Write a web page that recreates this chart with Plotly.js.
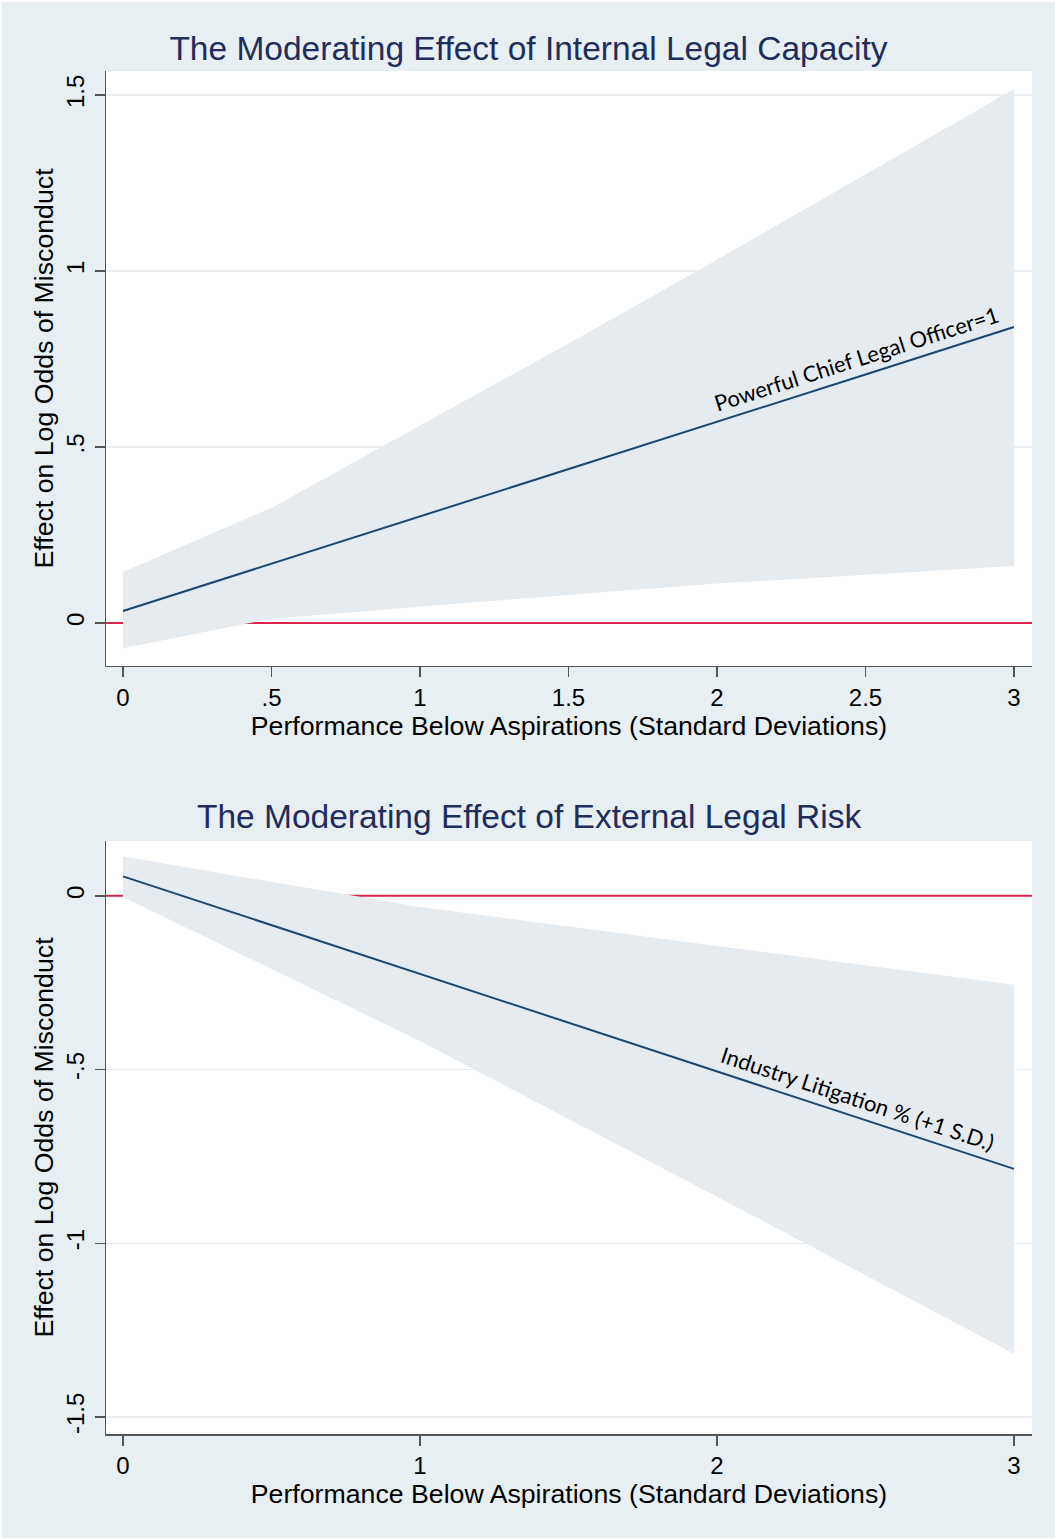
<!DOCTYPE html>
<html>
<head>
<meta charset="utf-8">
<script src="https://cdn.plot.ly/plotly-3.0.1.min.js"></script>
<style>
  html, body { margin:0; padding:0; background:#ffffff; }
  #plot { position:absolute; left:2px; top:2px; width:1053px; height:1536px; }
</style>
</head>
<body>
<div id="plot"></div>
<script>
// ---- Panel 1: Internal Legal Capacity ----
const xTop = [0, 0.5, 1, 1.5, 2, 2.5, 3];
const estTop = [0.034, 0.168, 0.303, 0.437, 0.572, 0.706, 0.841];
const upTop  = [0.145, 0.327, 0.561, 0.794, 1.032, 1.274, 1.517];
const loTop  = [-0.072, 0.012, 0.045, 0.080, 0.112, 0.138, 0.162];

// ---- Panel 2: External Legal Risk ----
const xBot = [0, 1, 2, 3];
const estBot = [0.056, -0.225, -0.505, -0.786];
const upBot  = [0.113, -0.032, -0.144, -0.256];
const loBot  = [-0.003, -0.418, -0.866, -1.318];

// reference line value (y = 0)
const refValue = 0;

// ---- Tick labels ----
const xTickValsTop = [0, 0.5, 1, 1.5, 2, 2.5, 3];
const xTickTextTop = ['0', '.5', '1', '1.5', '2', '2.5', '3'];
const yTickValsTop = [0, 0.5, 1, 1.5];
const yTickTextTop = ['0', '.5', '1', '1.5'];
const xTickValsBot = [0, 1, 2, 3];
const xTickTextBot = ['0', '1', '2', '3'];
const yTickValsBot = [-1.5, -1, -0.5, 0];
const yTickTextBot = ['-1.5', '-1', '-.5', '0'];

const titleTop = 'The Moderating Effect of Internal Legal Capacity';
const titleBot = 'The Moderating Effect of External Legal Risk';
const xTitle = 'Performance Below Aspirations (Standard Deviations)';
const yTitle = 'Effect on Log Odds of Misconduct';
const labelTop = 'Powerful Chief Legal Officer=1';
const labelBot = 'Industry Litigation % (+1 S.D.)';

const bandColor = '#e6ebf0';
const lineColor = '#1a476f';
const refColor = '#d8254d';
const axisColor = '#555555';
const gridColor = '#e8eef1';
const xRange = [-0.0572, 3.0606];

function refLine(xa, ya) {
  return {x: xRange, y: [refValue, refValue], xaxis: xa, yaxis: ya,
          type: 'scatter', mode: 'lines', line: {color: refColor, width: 2},
          hoverinfo: 'skip'};
}
function band(xs, up, lo, xa, ya) {
  return {
    x: xs.concat(xs.slice().reverse()),
    y: up.concat(lo.slice().reverse()),
    xaxis: xa, yaxis: ya,
    type: 'scatter', mode: 'lines', fill: 'toself',
    fillcolor: bandColor, line: {width: 0, color: bandColor},
    hoverinfo: 'skip'
  };
}
function est(xs, ys, xa, ya) {
  return {x: xs, y: ys, xaxis: xa, yaxis: ya, type: 'scatter', mode: 'lines',
          line: {color: lineColor, width: 2}};
}

const data = [
  refLine('x', 'y'),
  band(xTop, upTop, loTop, 'x', 'y'),
  est(xTop, estTop, 'x', 'y'),
  refLine('x2', 'y2'),
  band(xBot, upBot, loBot, 'x2', 'y2'),
  est(xBot, estBot, 'x2', 'y2')
];

const tickFont = {size: 24, color: '#000'};
const axTitleFont = {size: 26.7, color: '#000'};

function xAxis(anchor, vals, text) {
  return {
    anchor: anchor, domain: [0, 1], range: xRange,
    tickmode: 'array', tickvals: vals, ticktext: text,
    ticks: 'outside', ticklen: 10, tickwidth: 1.5, tickcolor: axisColor,
    showline: true, linecolor: axisColor, linewidth: 1.5,
    showgrid: false, zeroline: false, tickfont: tickFont,
    title: {text: xTitle, font: axTitleFont, standoff: 3}
  };
}
function yAxis(anchor, domain, range, vals, text) {
  return {
    anchor: anchor, domain: domain, range: range,
    tickmode: 'array', tickvals: vals, ticktext: text, tickangle: -90,
    ticks: 'outside', ticklen: 10, tickwidth: 1.5, tickcolor: axisColor,
    showline: true, linecolor: axisColor, linewidth: 1.5,
    showgrid: true, gridcolor: gridColor, gridwidth: 1.5,
    zeroline: false, tickfont: tickFont, ticklabelstandoff: 1,
    title: {text: yTitle, font: axTitleFont, standoff: 0}
  };
}

const layout = {
  width: 1053, height: 1536,
  paper_bgcolor: '#e8eff2', plot_bgcolor: '#ffffff',
  margin: {l: 104, r: 23, t: 69, b: 104},
  showlegend: false,
  font: {family: '"Liberation Sans", Arial, sans-serif', color: '#000'},
  title: {
    text: titleTop, font: {size: 33.5, color: '#1f2d5c'},
    x: 0.5, xref: 'container', xanchor: 'center',
    y: 0.9697, yref: 'container', yanchor: 'middle'
  },
  xaxis: xAxis('y', xTickValsTop, xTickTextTop),
  yaxis: yAxis('x', [0.5635, 1], [-0.122, 1.568], yTickValsTop, yTickTextTop),
  xaxis2: xAxis('y2', xTickValsBot, xTickTextBot),
  yaxis2: yAxis('x2', [0, 0.4351], [-1.549, 0.158], yTickValsBot, yTickTextBot),
  annotations: [
    {text: titleBot, xref: 'paper', yref: 'paper', x: 0.4573, y: 0.4527,
     xanchor: 'center', yanchor: 'middle', showarrow: false,
     font: {size: 33.5, color: '#1f2d5c'}},
    {text: labelTop, xref: 'x', yref: 'y', x: 2.47, y: 0.75, textangle: -17.7,
     xanchor: 'center', yanchor: 'middle', showarrow: false,
     font: {family: 'Lato, "Open Sans", sans-serif', size: 22, color: '#000'}},
    {text: labelBot, xref: 'x2', yref: 'y2', x: 2.475, y: -0.582, textangle: 18.2,
     xanchor: 'center', yanchor: 'middle', showarrow: false,
     font: {family: 'Lato, "Open Sans", sans-serif', size: 22, color: '#000'}}
  ]
};

Plotly.newPlot('plot', data, layout, {displayModeBar: false, staticPlot: true});
</script>
</body>
</html>
